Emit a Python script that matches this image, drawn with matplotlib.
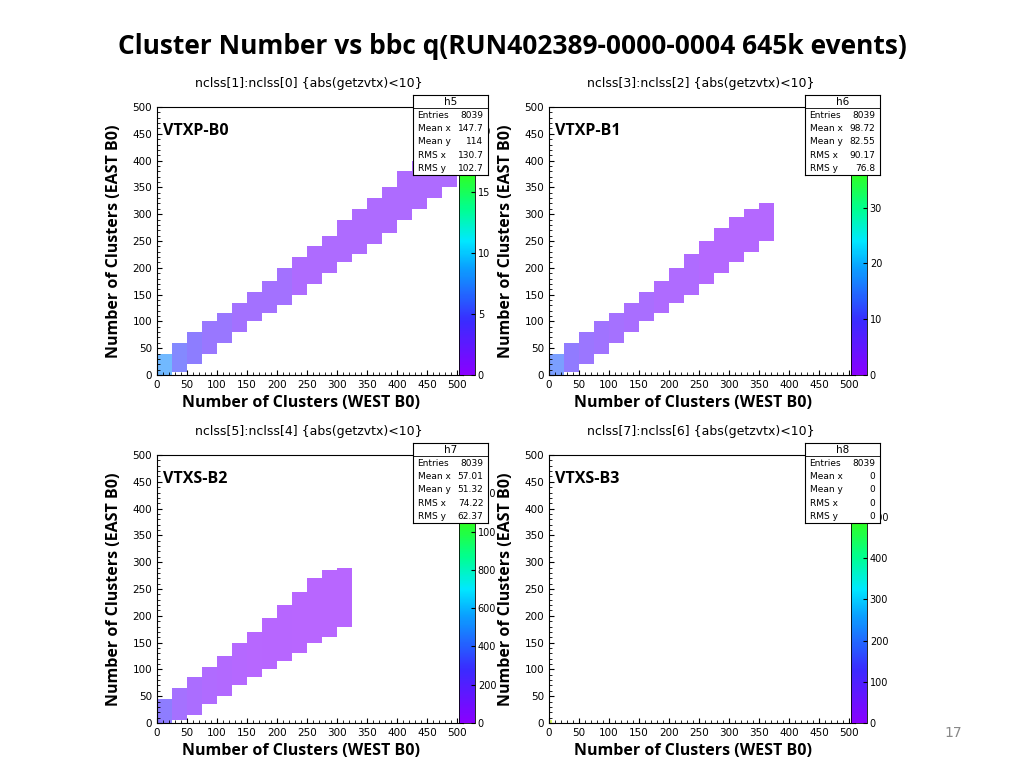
import numpy as np
import matplotlib.pyplot as plt
import matplotlib.colors as mcolors

# band segments: x start (width 25), y low, y high, counts per cell
seg_x = [0, 25, 50, 75, 100, 125, 150, 175, 200, 225, 250, 275, 300, 325, 350, 375, 400, 425, 450, 475]

p1_lo = [0, 5, 20, 40, 60, 80, 100, 115, 130, 150, 170, 190, 210, 225, 245, 265, 290, 310, 330, 350]
p1_hi = [40, 60, 80, 100, 115, 135, 155, 175, 200, 220, 240, 260, 290, 310, 330, 350, 380, 400, 420, 430]
p1_n = [8, 5, 4, 3, 3, 2, 2, 2, 2, 1, 1, 1, 1, 1, 1, 1, 1, 1, 1, 1]

p2_lo = [0, 5, 20, 40, 60, 80, 100, 115, 135, 150, 170, 190, 210, 230, 250, 0, 0, 0, 0, 0]
p2_hi = [40, 60, 80, 100, 115, 135, 155, 175, 200, 225, 250, 275, 295, 310, 320, 0, 0, 0, 0, 0]
p2_n = [14, 8, 6, 5, 4, 3, 3, 2, 2, 2, 1, 1, 1, 1, 1, 0, 0, 0, 0, 0]

p3_lo = [0, 5, 15, 35, 50, 70, 85, 100, 115, 130, 150, 160, 180, 0, 0, 0, 0, 0, 0, 0]
p3_hi = [45, 65, 85, 105, 125, 150, 170, 195, 220, 245, 270, 285, 290, 0, 0, 0, 0, 0, 0, 0]
p3_n = [250, 120, 80, 50, 40, 25, 15, 10, 8, 5, 4, 3, 2, 0, 0, 0, 0, 0, 0, 0]

p4_n00 = 600

vmax = [22, 48, 1400, 650]
cb_ticks = [[0, 5, 10, 15, 20], [0, 10, 20, 30, 40], [0, 200, 400, 600, 800, 1000, 1200],
            [0, 100, 200, 300, 400, 500]]
cb_labels = [['0', '5', '10', '15', '20'], ['0', '10', '20', '30', '40'],
             ['0', '200', '400', '600', '800', '100', '120'], ['0', '100', '200', '300', '400', '500']]

titles = ['nclss[1]:nclss[0] {abs(getzvtx)<10}', 'nclss[3]:nclss[2] {abs(getzvtx)<10}',
          'nclss[5]:nclss[4] {abs(getzvtx)<10}', 'nclss[7]:nclss[6] {abs(getzvtx)<10}']
tags = ['VTXP-B0', 'VTXP-B1', 'VTXS-B2', 'VTXS-B3']
hnames = ['h5', 'h6', 'h7', 'h8']
stats = [['8039', '147.7', '114', '130.7', '102.7'],
         ['8039', '98.72', '82.55', '90.17', '76.8'],
         ['8039', '57.01', '51.32', '74.22', '62.37'],
         ['8039', '0', '0', '0', '0']]
stat_names = ['Entries', 'Mean x', 'Mean y', 'RMS x', 'RMS y']

cmap = mcolors.LinearSegmentedColormap.from_list('root', [
    (0.0, '#8a00ff'), (0.2, '#3a2bff'), (0.4, '#0aa0ff'), (0.5, '#00e8ff'),
    (0.62, '#00ff90'), (0.75, '#30ff20'), (0.9, '#b8ff00'), (1.0, '#ffff20')])


def build_grid(lo, hi, n):
    g = np.zeros((100, 100))
    for k, x0 in enumerate(seg_x):
        if n[k] == 0:
            continue
        i0, i1 = x0 // 5, (x0 + 25) // 5
        j0, j1 = lo[k] // 5, hi[k] // 5
        g[j0:j1, i0:i1] = n[k]
    return np.ma.masked_equal(g, 0)


grids = [build_grid(p1_lo, p1_hi, p1_n), build_grid(p2_lo, p2_hi, p2_n),
         build_grid(p3_lo, p3_hi, p3_n)]
g4 = np.zeros((100, 100))
g4[0, 0] = p4_n00
grids.append(np.ma.masked_equal(g4, 0))

fig = plt.figure(figsize=(10.24, 7.68), dpi=100)
fig.text(0.5, 0.94, 'Cluster Number vs bbc q(RUN402389-0000-0004 645k events)',
         ha='center', va='center', fontsize=19, fontweight='bold', family='Open Sans')

lefts = [157, 549, 157, 549]
tops = [107, 107, 455, 455]
edges = np.arange(0, 505, 5)
for p in range(4):
    L, T = lefts[p], tops[p]
    ax = fig.add_axes([L / 1024, 1 - (T + 268) / 768, 306 / 1024, 268 / 768])
    ax.pcolormesh(edges, edges, grids[p], cmap=cmap, vmin=0, vmax=vmax[p], alpha=0.6)
    ax.set_xlim(0, 510)
    ax.set_ylim(0, 500)
    ax.set_xticks(range(0, 501, 50))
    ax.set_yticks(range(0, 501, 50))
    ax.minorticks_on()
    ax.tick_params(which='both', direction='in', labelsize=7.5, top=False, right=False)
    ax.text(10, 455, tags[p], fontsize=11.5, fontweight='bold', va='center', family='Open Sans')
    ax.set_xlabel('Number of Clusters (WEST B0)', fontsize=11.5, fontweight='bold', family='Open Sans')
    ax.set_ylabel('Number of Clusters (EAST B0)', fontsize=11.5, fontweight='bold', family='Open Sans')
    ax.xaxis.set_label_coords(0.47, -0.075)
    ax.yaxis.set_label_coords(-0.115, 0.5)
    fig.text((L + 38) / 1024, 1 - (T - 24) / 768, titles[p], fontsize=9, va='center')

    cax = fig.add_axes([(L + 302) / 1024, 1 - (T + 268) / 768, 16 / 1024, 268 / 768])
    sm = plt.cm.ScalarMappable(norm=mcolors.Normalize(0, vmax[p]), cmap=cmap)
    cb = fig.colorbar(sm, cax=cax)
    cb.set_ticks(cb_ticks[p])
    cb.set_ticklabels(cb_labels[p])
    cb.ax.tick_params(labelsize=7, direction='in', length=3, pad=2)
    cb.outline.set_linewidth(0.6)

    # stats box
    bx, by = (L + 256) / 1024, 1 - (T - 12) / 768
    sax = fig.add_axes([bx, by - 80 / 768, 75 / 1024, 80 / 768])
    sax.set_xticks([])
    sax.set_yticks([])
    sax.set_xlim(0, 1)
    sax.set_ylim(0, 6)
    sax.axhline(5, color='k', lw=0.6)
    sax.text(0.5, 5.5, hnames[p], ha='center', va='center', fontsize=7.5)
    for k in range(5):
        yy = 4.5 - k
        sax.text(0.06, yy, stat_names[k], va='center', fontsize=6.5)
        sax.text(0.94, yy, stats[p][k], va='center', ha='right', fontsize=6.5)

fig.text(953 / 1024, 1 - 733 / 768, '17', fontsize=10, color='#888888', ha='center', va='center')
fig.savefig('out.png', dpi=100)
